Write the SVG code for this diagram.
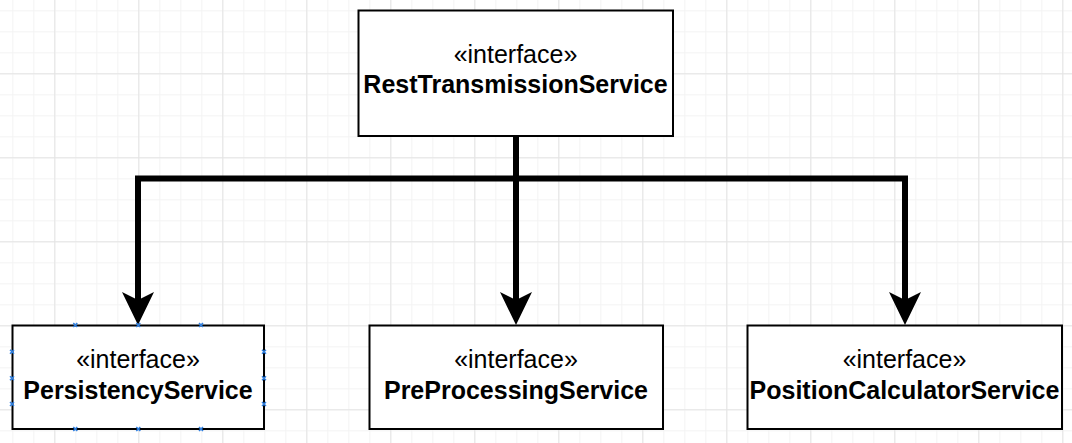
<svg xmlns="http://www.w3.org/2000/svg" width="1072" height="443" viewBox="0 0 1072 443">
  <defs>
    <pattern id="minor" x="12.3" y="10.3" width="21" height="21" patternUnits="userSpaceOnUse">
      <path d="M0,0.5 H21 M0.5,0 V21" fill="none" stroke="#f3f3f3" stroke-width="1"/>
    </pattern>
    <pattern id="major" x="54.3" y="73.3" width="84" height="84" patternUnits="userSpaceOnUse">
      <path d="M0,0.5 H84 M0.5,0 V84" fill="none" stroke="#e4e4e4" stroke-width="1"/>
    </pattern>
  </defs>
  <style>
    .box { fill: #ffffff; stroke: #000000; stroke-width: 2; }
    .st { font-family: "Liberation Sans", Arial, sans-serif; font-size: 25px; fill: #000; text-anchor: middle; }
    .nm { font-family: "Liberation Sans", Arial, sans-serif; font-size: 25px; font-weight: bold; fill: #000; text-anchor: middle; }
    .edge { fill: none; stroke: #000000; stroke-width: 6; stroke-linejoin: miter; }
    .head { fill: #000000; }
    .handle { stroke: #2f7fe0; stroke-width: 1.5; fill: none; }
  </style>
  <rect width="1072" height="443" fill="#ffffff"/>
  <rect width="1072" height="443" fill="url(#minor)"/>
  <rect width="1072" height="443" fill="url(#major)"/>

  <g id="connectors">
    <path class="edge" d="M516,136 V178.5 H138 V300" />
    <path class="edge" d="M516,136 V300" />
    <path class="edge" d="M516,178.5 H905 V300" />
    <path class="head" d="M138,325 L122,292 L138,300 L154,292 Z"/>
    <path class="head" d="M516,325 L500,292 L516,300 L532,292 Z"/>
    <path class="head" d="M905,325 L889,292 L905,300 L921,292 Z"/>
  </g>

  <g id="RestTransmissionService">
    <rect class="box" x="358.5" y="10.5" width="314.5" height="125.5"/>
    <text class="st" x="515.5" y="63.3">«interface»</text>
    <text class="nm" x="515.5" y="93.3">RestTransmissionService</text>
  </g>

  <g id="PersistencyService">
    <rect class="box" x="12.5" y="325.5" width="251.5" height="103.5"/>
    <text class="st" x="138" y="368.3">«interface»</text>
    <text class="nm" x="138" y="399.3">PersistencyService</text>
    <path class="handle" d="M73.3,323 l4,4 m0,-4 l-4,4 M136.3,323 l4,4 m0,-4 l-4,4 M199,323 l4,4 m0,-4 l-4,4 M73.3,427 l4,4 m0,-4 l-4,4 M136.3,427 l4,4 m0,-4 l-4,4 M199,427 l4,4 m0,-4 l-4,4 M10,349.7 l4,4 m0,-4 l-4,4 M10,376.3 l4,4 m0,-4 l-4,4 M10,402 l4,4 m0,-4 l-4,4 M262,349.7 l4,4 m0,-4 l-4,4 M262,376.3 l4,4 m0,-4 l-4,4 M262,402 l4,4 m0,-4 l-4,4"/>
  </g>

  <g id="PreProcessingService">
    <rect class="box" x="369.5" y="325.5" width="293.5" height="103.5"/>
    <text class="st" x="516" y="368.3">«interface»</text>
    <text class="nm" x="516" y="399.3">PreProcessingService</text>
  </g>

  <g id="PositionCalculatorService">
    <rect class="box" x="747.5" y="325.5" width="314.5" height="103.5"/>
    <text class="st" x="904.5" y="368.3">«interface»</text>
    <text class="nm" x="904.5" y="399.3">PositionCalculatorService</text>
  </g>
</svg>
